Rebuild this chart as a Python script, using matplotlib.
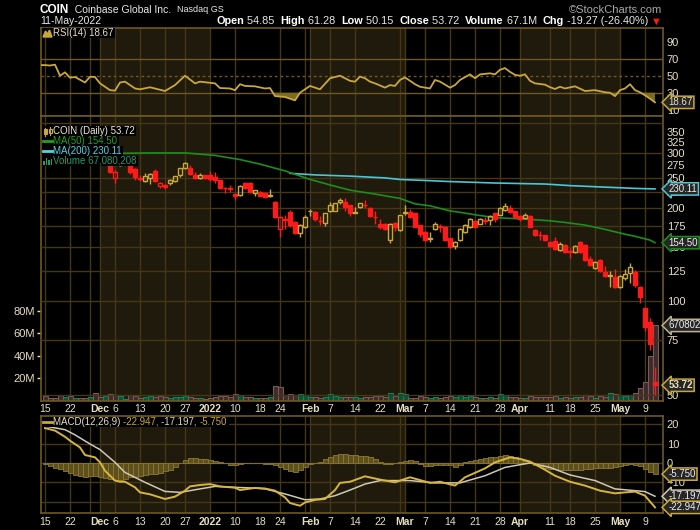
import numpy as np
import pandas as pd
import matplotlib
matplotlib.use("Agg")
import matplotlib.pyplot as plt
import matplotlib.transforms as mtransforms
from matplotlib.patches import Rectangle, Polygon
from matplotlib.lines import Line2D
from matplotlib.ticker import NullLocator

plt.rcParams['font.family'] = ['Liberation Sans', 'DejaVu Sans']

# trading days on the chart
holidays = ['2021-11-25', '2021-12-24', '2022-01-17', '2022-02-21', '2022-04-15']
dates = pd.bdate_range('2021-11-15', '2022-05-11', freq='C', holidays=holidays)

# daily candles
opens = [330, 320, 318, 306, 302, 316, 298, 300, 290, 288, 296, 292, 278, 272, 249.5, 274, 280, 272, 266, 250,
         243.5, 249.5, 262.5, 236, 237, 240.5, 244.5, 254.5, 268, 269.5, 256, 249.5, 254.5, 254.5, 251, 245, 232.5, 231.5, 221, 219.8,
         240.5, 240, 222.5, 225, 223, 218.5, 209.3, 170.7, 184, 193.5, 180.5, 165.5, 174, 195.5, 194, 182, 179, 195.5, 196, 208.5,
         209.5, 204, 194, 201, 205, 199.5, 187.5, 178, 178, 158, 179, 170, 192, 193.5, 192, 175.5, 167, 159, 171.5, 175,
         173.5, 159.5, 151, 158, 167, 173, 181, 178, 183, 182.5, 192, 190, 196.5, 200.5, 195, 188, 185, 188, 170, 164,
         163, 155, 157, 146, 152, 145, 144.5, 155, 151.5, 136.5, 128.5, 135.5, 124.5, 121.5, 120, 111.5, 118.5, 123, 124.5, 111.5,
         95.5, 86, 54.85]
highs = [335, 326, 322, 312, 318, 320, 305, 304, 295, 300, 300, 296, 290, 280, 265, 286, 287, 274, 268, 255,
         258, 259, 267, 242, 238, 247, 254, 269, 280, 274, 260, 258, 256, 263, 261, 246, 234, 237, 223, 236.5,
         243, 242, 229, 226, 224, 229.5, 211, 188.5, 189, 196.5, 182, 177, 189, 199, 195, 188.5, 193, 208.5, 208, 215.5,
         215.5, 205, 202, 208, 212, 201, 196, 184, 179, 179, 180.5, 190, 204, 198.5, 193, 176, 168, 167, 180.5, 177.5,
         175, 160, 156, 172, 177, 185, 183, 185.5, 187.5, 190, 193, 201, 207.5, 204, 196, 189.5, 192, 189, 171, 168,
         164, 156, 161, 155, 153, 148, 151.5, 156, 152.5, 140, 135, 136.5, 129.5, 125, 127.5, 121.5, 127.5, 132.5, 126, 112,
         96, 88.5, 61.28]
lows = [318, 312, 305, 295, 300, 298, 290, 292, 280, 285, 282, 276, 275, 259, 240, 272, 274, 257, 245.5, 243.5,
        242, 238, 243, 232, 229.5, 236.5, 243, 251, 266, 256, 248, 248, 247.5, 244, 240, 230, 224, 225, 212, 219,
        230, 223.5, 218.5, 218, 216, 216, 186, 160.6, 171.5, 174, 165, 160.6, 172, 188, 182, 176.5, 175, 194, 195, 206,
        196, 188, 192, 200, 200, 187, 178, 171, 170, 154.5, 168, 169, 189, 185, 173, 161, 157, 155, 170, 167,
        157, 148, 147, 157, 166, 172, 173, 177, 178, 175.5, 180, 189, 195, 192, 185, 182, 184, 173, 162, 158,
        156.5, 150, 146, 145, 143.5, 138, 143.5, 143.5, 134.5, 129.5, 127.5, 124, 119.5, 111.5, 110.5, 110.5, 117.5, 115, 111, 99,
        80.5, 69.6, 50.15]
closes = [322, 318, 308, 300, 314, 300, 302, 296, 284, 298, 285, 280, 283, 261, 260.5, 280, 281, 260, 251, 248,
          252.5, 257, 244, 241, 233.5, 246.5, 252.5, 268, 279, 257.5, 249.5, 255, 249, 248, 245, 231.5, 231, 229.5, 219, 234.5,
          231.5, 225, 227.5, 219, 217, 219.5, 187.5, 186.5, 183, 175.5, 166.5, 175.5, 187.5, 196, 183.5, 181, 192, 204.5, 207, 212.5,
          202, 192, 192.5, 207, 204, 188.5, 187, 173, 171, 178, 173, 189, 193.5, 186.5, 174, 164.5, 158, 159.5, 177.5, 174,
          158, 149.5, 155, 171, 175.5, 183.5, 174, 184, 182, 188.5, 184, 199.5, 203, 193.5, 186.5, 183.5, 189.5, 174, 163.5, 163,
          157.5, 151, 147, 153.5, 144.5, 144, 150.5, 144.5, 135.5, 130.5, 134, 125, 120.5, 121, 111.5, 120.5, 122.5, 129, 112.5, 103,
          82.5, 72.99, 53.72]
volume_m = [4.3, 3.1, 3.1, 5.1, 3.6, 4.2, 2.9, 2.9, 2.9, 3.6,
            7.2, 3.6, 4.3, 6.6, 5.1, 4.3, 2.1, 5.1, 4.5, 3.1,
            3.6, 4.3, 3.6, 4.3, 3.6, 2.9, 3.6, 3.6, 4.3, 3.6,
            2.9, 2.9, 2.2, 2.9, 3.6, 4.3, 4.3, 3.6, 6.0, 5.1,
            3.6, 3.6, 3.1, 2.9, 2.9, 3.6, 13.2, 12.6, 5.5, 6.5,
            5.1, 6.0, 5.1, 3.6, 3.6, 2.9, 3.6, 6.0, 4.3, 3.6,
            3.6, 3.6, 3.6, 3.1, 3.6, 3.6, 4.3, 4.3, 3.6, 7.2,
            4.3, 7.2, 6.0, 3.1, 3.1, 4.3, 3.6, 3.1, 3.6, 3.1,
            3.6, 4.3, 3.6, 5.1, 3.6, 4.3, 3.6, 3.1, 3.1, 3.6,
            3.1, 6.0, 5.1, 3.6, 3.6, 3.1, 3.1, 4.3, 3.6, 3.6,
            3.6, 3.6, 4.3, 3.1, 3.6, 3.1, 3.6, 3.6, 5.5, 4.3,
            3.1, 4.3, 3.6, 7.2, 6.0, 5.1, 4.3, 5.1, 7.2, 11.1,
            16.5, 40.0, 67.08]

# moving averages (day index, value)
ma50_idx = [0, 5, 10, 15, 21, 28, 34, 39, 43, 48, 53, 57, 61, 66, 71, 74, 77, 81, 83, 86, 90, 93, 96, 101, 104, 108, 112, 116, 118, 121, 122]
ma50_val = [297, 298, 299, 299.5, 300.5, 300.5, 295, 286, 276.5, 263, 247, 237, 228, 221.5, 214.5, 206, 203, 195.5, 193.5, 190, 186, 185, 184, 181.7, 179.5, 176, 170.5, 164.5, 162, 157.5, 154.5]
ma200_idx = [49, 54, 61, 68, 71, 76, 81, 90, 100, 105, 113, 118, 122]
ma200_val = [258.3, 255.3, 253, 249.7, 246.8, 245, 243, 240.4, 238.6, 235.8, 232.8, 231, 230.11]

# RSI(14)
rsi_idx = [-1, 0, 1, 2, 3, 4, 5, 6, 8, 9, 10, 11, 13, 14, 15, 16, 18, 19, 21, 24, 26, 28, 30, 31, 34, 35, 37, 38, 39, 40,
           42, 44, 45, 46, 48, 50, 51, 53, 55, 57, 59, 61, 62, 63, 64, 65, 66, 68, 69, 70, 71, 72, 74, 75, 77, 78, 79,
           81, 82, 83, 85, 86, 87, 89, 90, 91, 92, 93, 94, 95, 96, 97, 98, 100, 101, 102, 103, 104, 106, 108, 110, 112,
           113, 114, 115, 116, 117, 118, 119, 120, 121, 122]
rsi_val = [62.5, 62.5, 62, 63, 50, 54, 47.6, 48.5, 42, 48.8, 48.5, 41, 33, 32.5, 42, 43, 35, 34, 36.4, 32, 39, 50, 41, 43, 41, 35.5, 35, 33, 40, 38,
           37.5, 35, 35.5, 26, 25, 21, 30, 38, 34, 47, 50, 44, 43, 49, 47, 43, 41, 36, 39, 38, 45, 48, 40, 37, 35, 45, 43,
           36, 39, 45, 51.6, 47, 51.6, 52.8, 51.6, 57, 59, 54.5, 51, 50, 51.6, 44, 41, 39.5, 36.5, 34.4, 37, 35, 37.5, 32, 33, 30.5,
           30, 26, 33, 35, 40, 33, 30.5, 27, 23, 18.67]

# MACD(12,26,9)
macd_idx = [0, 2, 4, 5, 7, 8, 10, 11, 12, 14, 15, 16, 18, 19, 21, 24, 26, 28, 29, 31, 33, 35, 38, 39, 42, 44, 46, 48, 49,
            51, 52, 54, 56, 58, 59, 61, 64, 67, 70, 73, 77, 79, 82, 84, 88, 90, 93, 95, 97, 100, 102, 105, 108, 111, 114,
            116, 118, 120, 122]
macd_val = [18, 16.7, 13.5, 11.5, 8, 4.1, 2.9, 0.3, -4, -9.1, -9.7, -9.7, -12.6, -15.2, -16.2, -18.6, -17.4, -14.3, -12.1,
            -11.4, -10.9, -12.1, -12.8, -14, -12.9, -13.2, -14.3, -17.8, -20.7, -22.1, -20.4, -19.1, -18.6, -14, -10.3, -9.7,
            -6.9, -8.6, -10, -7.4, -10.3, -9.7, -11.7, -7.4, -2.8, 0.3, 2.9, 2.1, 0.7, -3.5, -6.6, -9.7, -11.7, -14.3, -15.7,
            -15.2, -14.8, -16.9, -22.947]
signal_idx = [0, 4, 6, 9, 11, 14, 16, 20, 24, 27, 31, 34, 38, 42, 44, 48, 52, 55, 58, 61, 64, 67, 73, 78, 83, 88, 92, 97,
              101, 105, 110, 114, 118, 120, 122]
signal_val = [19, 17.2, 14.5, 9.8, 6.9, 0.3, -4.9, -10, -14.7, -15.2, -13.4, -12.1, -12.6, -13, -13.4, -16, -19, -18.6,
              -16.9, -14, -10.9, -9.1, -9.1, -10.3, -10.3, -6.6, -2.3, 0, -2.3, -6.2, -9.1, -13.4, -14.3, -14.8, -17.197]
hist_val = [-0.5, -1.5, -2.5, -3.2, -4, -5, -6, -6.8, -7, -6.8,
            -6.5, -7, -7.8, -8.3, -8.8, -9, -8.5, -7.5, -7, -6.5,
            -6.2, -5.8, -5.5, -5, -4.3, -3.5, -2, 0, 1.5, 2.4,
            2.4, 2.2, 2, 1.6, 1, 0.5, 0, -0.8, -1, -0.5,
            0, 0, 0.2, -0.2, -0.3, -0.6, -1.2, -2.2, -3.2, -4.2,
            -4.8, -3.8, -2.2, -0.3, 0.2, 0.5, 1.8, 3, 4, 4.6,
            4.5, 4.2, 3.9, 3.8, 3.5, 2.9, 1.8, 0.3, -0.3, -0.5,
            0, 0.3, 1, 1.7, 0.8, -0.5, -1.5, -1.7, -1.3, -0.8,
            -1, -1.3, -1.9, -1.2, 0.3, 1, 1.7, 2.2, 2.6, 2.9,
            3.3, 3.8, 4.3, 3.8, 3, 2, 1, 0, -1, -1.7,
            -2.5, -3.1, -3.3, -3.4, -3.4, -3.4, -3.4, -3.4, -3.2, -3,
            -2.8, -2.8, -2.6, -2.4, -2.2, -1.8, -1.2, -0.4, -0.8, -1.5,
            -3, -4.5, -5.75]

price_ticks = [50, 75, 100, 125, 150, 175, 200, 225, 250, 275, 300, 325, 350]
price_grid = [50, 75, 100, 125, 150, 175, 200, 225, 250, 300, 375]
vol_ticks = [20, 40, 60, 80]
rsi_ticks = [10, 30, 50, 70, 90]
macd_ticks = [-20, -10, 0, 10, 20]

tick_dates = ['2021-11-15', '2021-11-22', '2021-12-01', '2021-12-06', '2021-12-13', '2021-12-20', '2021-12-27',
              '2022-01-03', '2022-01-10', '2022-01-18', '2022-01-24', '2022-02-01', '2022-02-07', '2022-02-14',
              '2022-02-22', '2022-03-01', '2022-03-07', '2022-03-14', '2022-03-21', '2022-03-28', '2022-04-01',
              '2022-04-11', '2022-04-18', '2022-04-25', '2022-05-02', '2022-05-09']
tick_text = ['15', '22', 'Dec', '6', '13', '20', '27', '2022', '10', '18', '24', 'Feb', '7', '14', '22', 'Mar', '7',
             '14', '21', '28', 'Apr', '11', '18', '25', 'May', '9']
bold_ticks = ['Dec', '2022', 'Feb', 'Mar', 'Apr', 'May']
shade_months = ['2021-12', '2022-02', '2022-04']

# colours
SHADE = '#1f1a0c'
GRID = '#433716'
SPINE = '#6e5823'
CREAM = '#e6dec0'
GOLD = '#c9a83a'
RED = '#ff1a1a'

W, H = 700, 530
fig = plt.figure(figsize=(7, 5.3), dpi=100, facecolor='black')
px = mtransforms.IdentityTransform()

L, R = 40.5, 662.5
def box(top, bot):
    return [L / W, 1 - bot / H, (R - L) / W, (bot - top) / H]

ax_r = fig.add_axes(box(27.7, 116))
ax_v = fig.add_axes(box(116, 401))
ax_p = fig.add_axes(box(116, 401))
ax_m = fig.add_axes(box(415.7, 513.3))

x = np.arange(len(dates))
xlim = (-0.9, 123.5)
grid_x = sorted(set(np.where(dates.weekday == 0)[0]) |
                set(np.where(dates.month != np.roll(dates.month, 1))[0][1:]))
grid_x = [g for g in grid_x if dates[g] != pd.Timestamp('2022-04-04')]

for a in (ax_r, ax_v, ax_m):
    a.set_facecolor('black')
    a.set_xlim(*xlim)
    for m in shade_months:
        per = pd.Period(m)
        s = np.searchsorted(dates, per.start_time)
        e = np.searchsorted(dates, (per + 1).start_time)
        a.axvspan(s, e, color=SHADE, lw=0, zorder=0)
    for g in grid_x:
        a.axvline(g, color=GRID, lw=1, zorder=1)
    for sp in a.spines.values():
        sp.set_color(SPINE)
        sp.set_linewidth(1.2)
    a.tick_params(axis='x', length=0)

# ---------- RSI ----------
rx = np.array(rsi_idx)
rv = np.array(rsi_val)
ax_r.set_ylim(2.6, 106.5)
ax_r.axhline(70, color='#6e5824', lw=1, zorder=1)
ax_r.axhline(30, color='#6e5824', lw=1, zorder=1)
ax_r.axhline(50, color='#6e5824', lw=1, ls=(0, (2, 2)), zorder=1)
ax_r.fill_between(rx, rv, 30, where=rv < 30, interpolate=True, color='#7a6a22', lw=0, zorder=2)
ax_r.plot(rx, rv, color=GOLD, lw=1.3, zorder=3)
ax_r.yaxis.tick_right()
ax_r.set_yticks(rsi_ticks)
ax_r.tick_params(axis='y', length=0, pad=3, labelsize=8, labelcolor=CREAM)
ax_r.set_xticks([])

# ---------- volume (under price) ----------
o, h, l, c = (np.array(v, dtype=float) for v in (opens, highs, lows, closes))
prev = np.r_[o[0], c[:-1]]
up = c >= prev
ax_v.set_ylim(0, 253)
ax_v.bar(x, volume_m, width=1.0, color=np.where(up, '#0b5238', '#3e2a2a'),
         edgecolor=np.where(up, '#17805a', '#7a5a58'), lw=0.8, zorder=2)
ax_v.set_yticks(vol_ticks)
ax_v.set_yticklabels([f'{v}M' for v in vol_ticks])
ax_v.tick_params(axis='y', length=3, width=1, color=CREAM, pad=1, labelsize=8, labelcolor=CREAM)
ax_v.set_xticks([np.searchsorted(dates, pd.Timestamp(d)) for d in tick_dates])
ax_v.set_xticklabels(tick_text)
ax_v.tick_params(axis='x', pad=2.5, labelsize=7.5, labelcolor=CREAM)
for t in ax_v.get_xticklabels():
    if t.get_text() in bold_ticks:
        t.set_fontweight('bold')

# ---------- price ----------
ax_p.set_facecolor('none')
ax_p.set_yscale('log')
ax_p.set_xlim(*xlim)
ax_p.set_ylim(47.8, 395)
for sp in ax_p.spines.values():
    sp.set_visible(False)
for g in price_grid:
    ax_p.axhline(g, color=GRID, lw=1, zorder=1)
ax_p.plot(ma200_idx, ma200_val, color='#4cc6d6', lw=1.2, zorder=2)
ax_p.plot(ma50_idx, ma50_val, color='#1c8e1c', lw=1.2, zorder=2)
col = np.where(up, GOLD, RED)
top = np.maximum(o, c)
bot = np.minimum(o, c)
ax_p.vlines(x, top, h, colors=col, lw=1, zorder=3)
ax_p.vlines(x, l, bot, colors=col, lw=1, zorder=3)
face = [cc if cl < op else 'none' for cc, cl, op in zip(col, c, o)]
ax_p.bar(x, np.maximum(top - bot, 0.2), bottom=bot, width=0.7, color=face, edgecolor=col, lw=1, zorder=4)
ax_p.yaxis.tick_right()
ax_p.yaxis.set_minor_locator(NullLocator())
ax_p.set_yticks(price_ticks)
ax_p.set_yticklabels([str(t) for t in price_ticks])
ax_p.tick_params(axis='y', which='both', length=0, pad=3, labelsize=8, labelcolor=CREAM)
ax_p.set_xticks([])

# ---------- MACD ----------
ax_m.set_ylim(-26.0, 24.4)
for g in macd_ticks:
    ax_m.axhline(g, color=GRID, lw=1, zorder=1)
ax_m.bar(x, hist_val, width=1.0, color='#5e501c', edgecolor='#8c7a32', lw=0.6, zorder=2)
ax_m.plot(signal_idx, signal_val, color='#cfc8b4', lw=1.1, zorder=3)
ax_m.plot(macd_idx, macd_val, color='#d6b63c', lw=1.4, zorder=4)
ax_m.yaxis.tick_right()
ax_m.set_yticks(macd_ticks)
ax_m.tick_params(axis='y', length=0, pad=3, labelsize=8, labelcolor=CREAM)
ax_m.set_xticks(ax_v.get_xticks())
ax_m.set_xticklabels(tick_text)
ax_m.tick_params(axis='x', pad=2.5, labelsize=7.5, labelcolor=CREAM)
for t in ax_m.get_xticklabels():
    if t.get_text() in bold_ticks:
        t.set_fontweight('bold')

# ---------- value tags on the right ----------
def tag(a, y, s, ec, tc='#eeeeee', bold=False):
    a.text(1 + 6 / 622, y, s, transform=a.get_yaxis_transform(), ha='left', va='center',
           fontsize=7, color=tc, fontweight='bold' if bold else 'normal', clip_on=False, zorder=20,
           bbox=dict(boxstyle='larrow,pad=0.12', fc='#262626', ec=ec, lw=1.1))

tag(ax_r, rsi_val[-1], f'{rsi_val[-1]:.2f}', GOLD, CREAM)
tag(ax_p, ma200_val[-1], f'{ma200_val[-1]:.2f}', '#4cc6d6')
tag(ax_p, ma50_val[-1], f'{ma50_val[-1]:.2f}', '#1c8e1c')
tag(ax_v, volume_m[-1], '67080208', '#bdb38a')
tag(ax_p, closes[-1], f'{closes[-1]:.2f}', GOLD, CREAM, bold=True)
tag(ax_m, hist_val[-1], f'{hist_val[-1]:.3f}', GOLD)
tag(ax_m, signal_val[-1], f'{signal_val[-1]:.3f}', '#cfc8b4')
tag(ax_m, macd_val[-1], f'{macd_val[-1]:.3f}', GOLD)

# ---------- text runs (header and legends) ----------
rend = fig.canvas.get_renderer()

def run(x0, y, parts, size=7, bg=None, right=None):
    arts = []
    xx = x0
    for part in parts:
        s, colr, wt = part[:3]
        sz = part[3] if len(part) > 3 else size
        t = fig.text(xx, H - y, s, transform=px, fontsize=sz, color=colr, fontweight=wt,
                     ha='left', va='center', zorder=12)
        arts.append(t)
        xx += t.get_window_extent(rend).width
    if right is not None:
        shift = right - xx
        for t in arts:
            t.set_x(t.get_position()[0] + shift)
        xx += shift
    if bg is not None:
        fig.add_artist(Rectangle((bg, H - y - 5), xx - bg + 1.5, 10, transform=px,
                                 fc='black', ec='none', zorder=11))
    return xx

run(40, 10, [('COIN', 'white', 'bold', 8.5), ('  Coinbase Global Inc.  ', '#e8e8e8', 'normal', 7.5),
             ('Nasdaq GS', '#e8e8e8', 'normal', 6.5)])
fig.text(662, H - 10, '\u00a9StockCharts.com', transform=px, fontsize=8, color='#a8a8a8', ha='right', va='center')
run(40, 21.5, [('11-May-2022', '#e8e8e8', 'normal')], size=7.5)
stats = [('Open', 'white', 'bold'), (' 54.85  ', '#e8e8e8', 'normal'),
         ('High', 'white', 'bold'), (' 61.28  ', '#e8e8e8', 'normal'),
         ('Low', 'white', 'bold'), (' 50.15  ', '#e8e8e8', 'normal'),
         ('Close', 'white', 'bold'), (' 53.72  ', '#e8e8e8', 'normal'),
         ('Volume', 'white', 'bold'), (' 67.1M  ', '#e8e8e8', 'normal'),
         ('Chg', 'white', 'bold'), (' -19.27 (-26.40%)', '#e8e8e8', 'normal'),
         (' \u25bc', RED, 'normal')]
run(214, 21.5, stats, size=7.8, right=662)

run(53, 33, [('RSI(14) 18.67', CREAM, 'normal')], bg=42)
run(53, 130.5, [('COIN (Daily) 53.72', '#ece8d8', 'normal')], bg=42)
run(53, 140.5, [('MA(50) 154.50', '#22a022', 'normal')], bg=42)
run(53, 150.5, [('MA(200) 230.11', '#52d2e2', 'normal')], bg=42)
run(53, 160.5, [('Volume 67,080,208', '#1f9a6c', 'normal')], bg=42)
run(53, 422, [('MACD(12,26,9) ', CREAM, 'normal'), ('-22.947, ', GOLD, 'normal'),
              ('-17.197, ', '#d8d2c0', 'normal'), ('-5.750', GOLD, 'normal')], bg=42)

# legend icons
def pl(pts):
    return [(a, H - b) for a, b in pts]

fig.add_artist(Polygon(pl([(43, 37), (45.5, 31), (47.5, 34), (49.5, 30), (52, 37)]), closed=True,
                       transform=px, fc=GOLD, ec=GOLD, zorder=13))
fig.add_artist(Rectangle((43.5, H - 134), 3, 5, transform=px, fc=GOLD, ec=GOLD, lw=0.8, zorder=13))
fig.add_artist(Rectangle((48.5, H - 133), 3, 4.5, transform=px, fc='black', ec=GOLD, lw=0.8, zorder=13))
fig.add_artist(Line2D([45, 45], [H - 135.5, H - 127.5], transform=px, color=GOLD, lw=0.8, zorder=13))
fig.add_artist(Line2D([50, 50], [H - 134.5, H - 127], transform=px, color=GOLD, lw=0.8, zorder=13))
fig.add_artist(Line2D([43, 52], [H - 140.5, H - 140.5], transform=px, color='#22a022', lw=2, zorder=13))
fig.add_artist(Line2D([43, 52], [H - 150.5, H - 150.5], transform=px, color='#52d2e2', lw=2, zorder=13))
for bx, bh in zip([43, 45.5, 48, 50.5], [4, 7, 5, 6]):
    fig.add_artist(Rectangle((bx, H - 164.5), 1.8, bh, transform=px, fc='#1f9a6c', ec='none', zorder=13))
fig.add_artist(Line2D([43, 52], [H - 422, H - 422], transform=px, color=GOLD, lw=2, zorder=13))

fig.savefig('out.png', dpi=100, facecolor='black')
